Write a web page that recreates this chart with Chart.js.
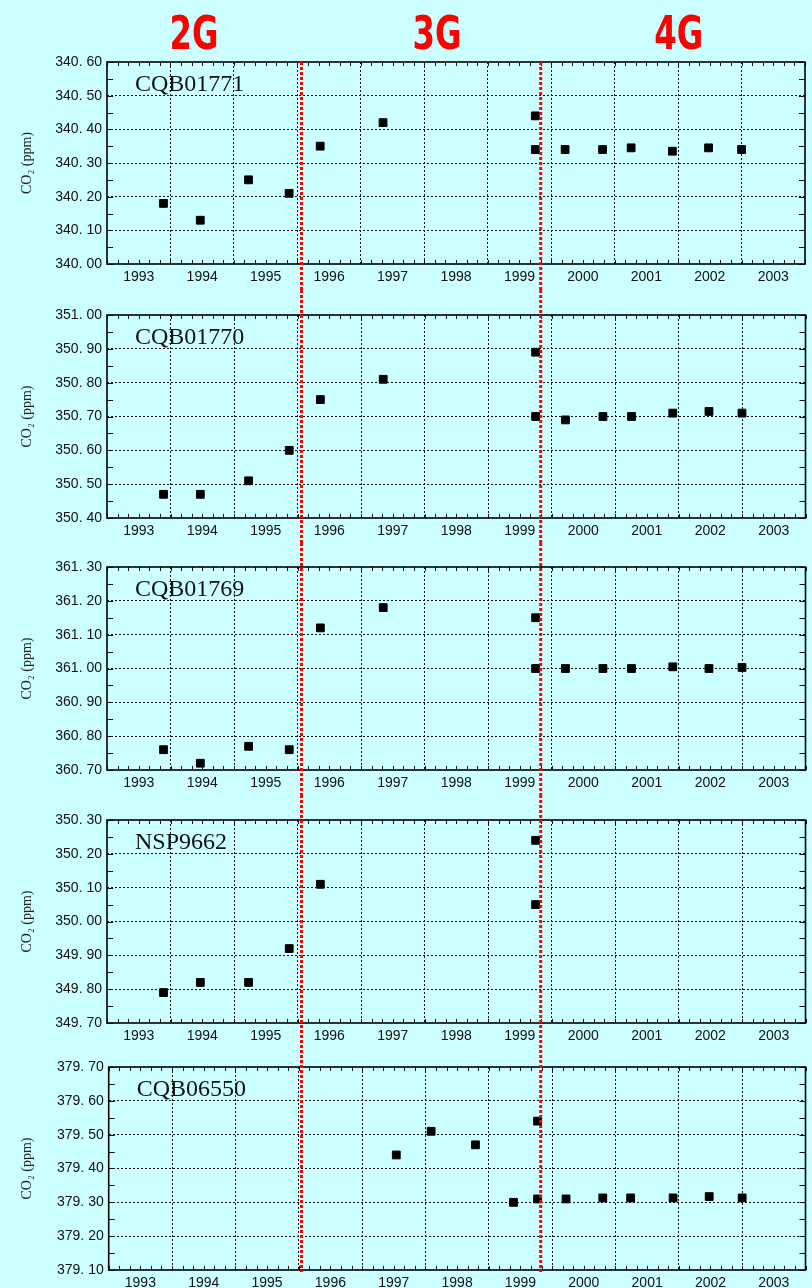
<!DOCTYPE html>
<html><head><meta charset="utf-8">
<script src="https://cdn.jsdelivr.net/npm/chart.js@4.4.1/dist/chart.umd.min.js"></script>
<style>
html,body{margin:0;padding:0;background:#ccffff;}
body{width:812px;height:1288px;position:relative;overflow:hidden;}
canvas{position:absolute;left:0;}
</style></head><body>
<canvas id="c0"></canvas><canvas id="c1"></canvas><canvas id="c2"></canvas><canvas id="c3"></canvas><canvas id="c4"></canvas>
<script>
// ---------------- data ----------------
const stationNames = ['CQB01771', 'CQB01770', 'CQB01769', 'NSP9662', 'CQB06550'];
const yearLabels = ['1993','1994','1995','1996','1997','1998','1999','2000','2001','2002','2003'];
const eraNames = ['2G', '3G', '4G'];
const eraNameYears = [1994.37, 1998.2, 2002.01];
const eraBoundaryYears = [1996.065, 1999.835];

const sampleDates = [1993.89, 1994.47, 1995.23, 1995.87, 1996.36, 1997.35, 1999.75, 1999.75, 2000.22, 2000.81, 2001.26, 2001.91, 2002.48, 2003.00];
const co2_CQB01771 = [340.18, 340.13, 340.25, 340.21, 340.35, 340.42, 340.44, 340.34, 340.34, 340.34, 340.345, 340.335, 340.345, 340.34];
const co2_CQB01770 = [350.47, 350.47, 350.51, 350.60, 350.75, 350.81, 350.89, 350.70, 350.69, 350.70, 350.70, 350.71, 350.715, 350.71];
const co2_CQB01769 = [360.76, 360.72, 360.77, 360.76, 361.12, 361.18, 361.15, 361.00, 361.00, 361.00, 361.00, 361.005, 361.00, 361.003];
const dates_NSP9662 = [1993.89, 1994.47, 1995.23, 1995.87, 1996.36, 1999.75, 1999.75];
const co2_NSP9662 = [349.79, 349.82, 349.82, 349.92, 350.11, 350.24, 350.05];
const dates_CQB06550 = [1997.54, 1998.09, 1998.79, 1999.39, 1999.77, 1999.77, 2000.22, 2000.80, 2001.24, 2001.91, 2002.48, 2003.00];
const co2_CQB06550 = [379.44, 379.51, 379.47, 379.30, 379.54, 379.31, 379.31, 379.313, 379.313, 379.313, 379.317, 379.313];

const yMins = [340.0, 350.4, 360.7, 349.7, 379.1];
const yMaxs = [340.6, 351.0, 361.3, 350.3, 379.7];
const yStep = 0.1;

const panelDates = [sampleDates, sampleDates, sampleDates, dates_NSP9662, dates_CQB06550];
const panelValues = [co2_CQB01771, co2_CQB01770, co2_CQB01769, co2_NSP9662, co2_CQB06550];

// ---------------- layout (page pixels) ----------------
const boxes = [
  {top: 0,    h: 290, padTop: 62, xH: 26, left: 107,   padRight: 7},
  {top: 290,  h: 253, padTop: 25, xH: 25, left: 107,   padRight: 6.5},
  {top: 543,  h: 252, padTop: 24, xH: 25, left: 107,   padRight: 6.3},
  {top: 795,  h: 250, padTop: 25, xH: 22, left: 107,   padRight: 6.5},
  {top: 1045, h: 243, padTop: 22, xH: 18, left: 108.7, padRight: 2}
];

let refChart = null;
const xFirst = 1993, xLast = 2004;

const panelPlugin = {
  id: 'panel',
  beforeDatasetsDraw(chart, args, opts) {
    const {ctx, chartArea: a, scales: {x, y}} = chart;
    ctx.save();
    ctx.strokeStyle = '#111';
    ctx.lineWidth = 1;
    ctx.beginPath();
    for (let k = 0; k <= (xLast - xFirst) * 6; k++) {
      const px = Math.round(x.getPixelForValue(xFirst + k / 6)) + 0.5;
      ctx.moveTo(px, a.top); ctx.lineTo(px, a.top + 4);
      ctx.moveTo(px, a.bottom); ctx.lineTo(px, a.bottom - 4);
    }
    const n = Math.round((y.max - y.min) / (yStep / 2));
    for (let k = 0; k <= n; k++) {
      const py = Math.round(y.getPixelForValue(y.min + k * yStep / 2)) + 0.5;
      ctx.moveTo(a.left, py); ctx.lineTo(a.left + 6, py);
      ctx.moveTo(a.right, py); ctx.lineTo(a.right - 6, py);
    }
    ctx.stroke();
    ctx.lineWidth = 1.6;
    ctx.strokeStyle = '#000';
    ctx.strokeRect(a.left, a.top, a.right - a.left, a.bottom - a.top);
    // station name
    ctx.fillStyle = '#111';
    ctx.font = '24px "Liberation Serif", "Times New Roman", serif';
    ctx.textAlign = 'left';
    ctx.textBaseline = 'alphabetic';
    ctx.fillText(opts.name, a.left + 28, a.top + 29);
    ctx.restore();
  },
  afterDraw(chart, args, opts) {
    const {ctx, chartArea: a} = chart;
    const sx = (refChart || chart).scales.x;
    ctx.save();
    ctx.strokeStyle = '#ff0000';
    ctx.lineWidth = 3;
    ctx.setLineDash([3, 2]);
    const y0 = opts.index === 0 ? a.top : 0;
    const y1 = opts.index === 4 ? a.bottom + 2 : chart.height;
    ctx.beginPath();
    eraBoundaryYears.forEach(v => {
      const px = sx.getPixelForValue(v);
      ctx.moveTo(px, y0); ctx.lineTo(px, y1);
    });
    ctx.stroke();
    ctx.restore();
    if (opts.index === 0) {
      ctx.save();
      ctx.fillStyle = '#ff0000';
      ctx.font = 'bold 46px "Liberation Sans Narrow", "DejaVu Sans Condensed", sans-serif';
      ctx.textAlign = 'center';
      ctx.textBaseline = 'alphabetic';
      eraNames.forEach((t, i) => {
        ctx.save();
        ctx.translate(sx.getPixelForValue(eraNameYears[i]), 49);
        ctx.scale(0.78, 1);
        ctx.fillText(t, 0, 0);
        ctx.restore();
      });
      ctx.restore();
    }
  }
};

const tickFont = {family: '"Liberation Sans", Arial, sans-serif', size: 14};

boxes.forEach((b, i) => {
  const cv = document.getElementById('c' + i);
  cv.width = 812; cv.height = b.h;
  cv.style.top = b.top + 'px';
  const yMin = yMins[i], yMax = yMaxs[i];
  const pts = panelDates[i].map((d, j) => ({x: d, y: panelValues[i][j]}));
  const chart = new Chart(cv, {
    type: 'scatter',
    data: {datasets: [{
      data: pts,
      pointStyle: 'rect',
      pointRadius: 5.5,
      pointHoverRadius: 5.5,
      backgroundColor: '#000',
      borderColor: '#000',
      borderWidth: 1
    }]},
    options: {
      responsive: false,
      animation: false,
      devicePixelRatio: 1,
      events: [],
      layout: {padding: {top: b.padTop, right: b.padRight, left: 0, bottom: 0}},
      plugins: {
        legend: {display: false},
        tooltip: {enabled: false},
        panel: {index: i, name: stationNames[i]}
      },
      scales: {
        x: {
          type: 'linear', min: xFirst, max: xLast,
          afterBuildTicks: s => {
            const t = [];
            for (let k = 0; k <= yearLabels.length; k++) {
              t.push({value: xFirst + k});
              if (k < yearLabels.length) t.push({value: xFirst + k + 0.5});
            }
            s.ticks = t;
          },
          afterFit: s => { s.height = b.xH; },
          grid: {
            drawTicks: false, lineWidth: 1,
            color: c => {
              const v = c.tick ? c.tick.value : NaN;
              return (Number.isInteger(v) && v > xFirst && v < xLast) ? '#111' : 'rgba(0,0,0,0)';
            }
          },
          border: {display: false, dash: [2, 2]},
          ticks: {
            autoSkip: false, maxRotation: 0, minRotation: 0, padding: 5,
            font: tickFont, color: '#111',
            callback: v => Number.isInteger(v) ? '' : yearLabels[Math.floor(v) - xFirst]
          }
        },
        y: {
          type: 'linear', min: yMin, max: yMax,
          afterBuildTicks: s => {
            const n = Math.round((yMax - yMin) / yStep);
            s.ticks = Array.from({length: n + 1}, (_, k) => ({value: +(yMin + k * yStep).toFixed(2)}));
          },
          afterFit: s => { s.width = b.left; },
          grid: {
            drawTicks: false, lineWidth: 1,
            color: c => {
              const v = c.tick ? c.tick.value : NaN;
              return (v > yMin + 1e-6 && v < yMax - 1e-6) ? '#111' : 'rgba(0,0,0,0)';
            }
          },
          border: {display: false, dash: [2, 2]},
          title: {
            display: true, text: 'CO\u2082 (ppm)', color: '#222',
            font: {family: '"Liberation Serif", "DejaVu Serif", serif', size: 14},
            padding: {top: 19, bottom: 0}
          },
          ticks: {
            padding: 5, font: tickFont, color: '#111',
            callback: v => Number(v).toFixed(2).replace('.', '. ')
          }
        }
      }
    },
    plugins: [panelPlugin]
  });
  if (i === 0) { refChart = chart; chart.draw(); }
});
</script>
</body></html>
